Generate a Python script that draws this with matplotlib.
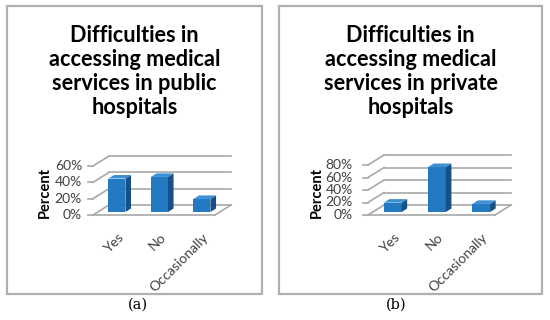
import matplotlib
matplotlib.use('Agg')
import matplotlib.pyplot as plt
import matplotlib.transforms as mtransforms
from matplotlib.patches import Polygon, Rectangle

categories = ['Yes', 'No', 'Occasionally']
public_values = [41, 43, 16]
private_values = [15, 72, 13]
public_ticks = [0, 20, 40, 60]
private_ticks = [0, 20, 40, 60, 80]
public_title = ['Difficulties in', 'accessing medical', 'services in public', 'hospitals']
private_title = ['Difficulties in', 'accessing medical', 'services in private', 'hospitals']

W, H = 550, 320
DX, DY = 16, 10          # depth offset of the back wall, pixels
BAR_D0, BAR_D1 = 0.3, 0.65
BAR_W = 0.4
FRONT = '#2479c3'
SIDE = '#174f86'
TOP = '#3b8fd2'
GRID = '#a8a8a8'

plt.rcParams['font.family'] = ['Lato', 'DejaVu Sans']
fig = plt.figure(figsize=(W / 100, H / 100), dpi=100)
ident = mtransforms.IdentityTransform()


def fig_pt(x, y):
    # image pixel (top-left origin) -> display
    return x, H - y


def draw_panel(box, front, values, ticks, title, letter, letter_x, lab_gap, ylab_xy):
    left, top, right, bottom = box
    fig.add_artist(Rectangle((left / W, 1 - bottom / H), (right - left) / W, (bottom - top) / H,
                             transform=fig.transFigure, fill=False, ec='#b0b0b0', lw=1.6))
    fl, ftop, fr, fb = front
    ax = fig.add_axes([fl / W, 1 - fb / H, (fr - fl) / W, (fb - ftop) / H])
    ax.set_xlim(-0.45, 2.42)
    ax.set_ylim(0, ticks[-1])
    ax.axis('off')
    x0, x1 = ax.get_xlim()

    def to_px(x, y, d):
        px, py = ax.transData.transform((x, y))
        return (px + d * DX, py + d * DY)

    def seg(p, q, **kw):
        ax.plot([p[0], q[0]], [p[1], q[1]], transform=ident, clip_on=False, **kw)

    for t in ticks:
        seg(to_px(x0, t, 1), to_px(x1, t, 1), color=GRID, lw=1.2)
        seg(to_px(x0, t, 0), to_px(x0, t, 1), color=GRID, lw=1.2)
        p = to_px(x0, t, 0)
        seg((p[0] - 5, p[1]), p, color=GRID, lw=1.2)
        ax.text(p[0] - lab_gap, p[1], f'{t}%', transform=ident, ha='right', va='center',
                fontsize=10, color='#404040')
    seg(to_px(x0, 0, 0), to_px(x1, 0, 0), color=GRID, lw=1.2)
    seg(to_px(x1, 0, 0), to_px(x1, 0, 1), color=GRID, lw=1.2)

    xs = range(len(values))
    off = mtransforms.ScaledTranslation(BAR_D0 * DX / 100, BAR_D0 * DY / 100, fig.dpi_scale_trans)
    ax.bar(xs, values, BAR_W, color=FRONT, transform=ax.transData + off, clip_on=False, zorder=3)
    for i, v in zip(xs, values):
        a, b = i - BAR_W / 2, i + BAR_W / 2
        side = [to_px(b, 0, BAR_D0), to_px(b, 0, BAR_D1), to_px(b, v, BAR_D1), to_px(b, v, BAR_D0)]
        topf = [to_px(a, v, BAR_D0), to_px(b, v, BAR_D0), to_px(b, v, BAR_D1), to_px(a, v, BAR_D1)]
        ax.add_patch(Polygon(side, closed=True, fc=SIDE, ec='none', transform=ident, clip_on=False, zorder=3))
        ax.add_patch(Polygon(topf, closed=True, fc=TOP, ec='none', transform=ident, clip_on=False, zorder=3))
        p = to_px(i, 0, 0)
        ax.text(p[0] + 5, p[1] - 16, categories[i], transform=ident, ha='right', va='top',
                rotation=45, rotation_mode='anchor', fontsize=10, color='#404040')

    cx = (left + right) / 2
    for k, line in enumerate(title):
        x, y = fig_pt(cx, [35, 60, 84, 108][k])
        fig.text(x / W, y / H, line, ha='center', va='center', fontsize=15.6, fontweight='bold')
    x, y = fig_pt(*ylab_xy)
    fig.text(x / W, y / H, 'Percent', ha='center', va='center', rotation=90,
             fontsize=10.5, fontweight='bold')
    x, y = fig_pt(letter_x, 305)
    fig.text(x / W, y / H, letter, ha='center', va='center', fontsize=10.5,
             family='DejaVu Serif')


draw_panel((7, 6, 262, 294), (93, 166, 215, 215), public_values, public_ticks,
           public_title, '(a)', 138, 11, (45, 193))
draw_panel((279, 6, 542, 294), (368, 165, 495, 215), private_values, private_ticks,
           private_title, '(b)', 396, 15, (317, 192))

fig.savefig('out.png', dpi=100)
